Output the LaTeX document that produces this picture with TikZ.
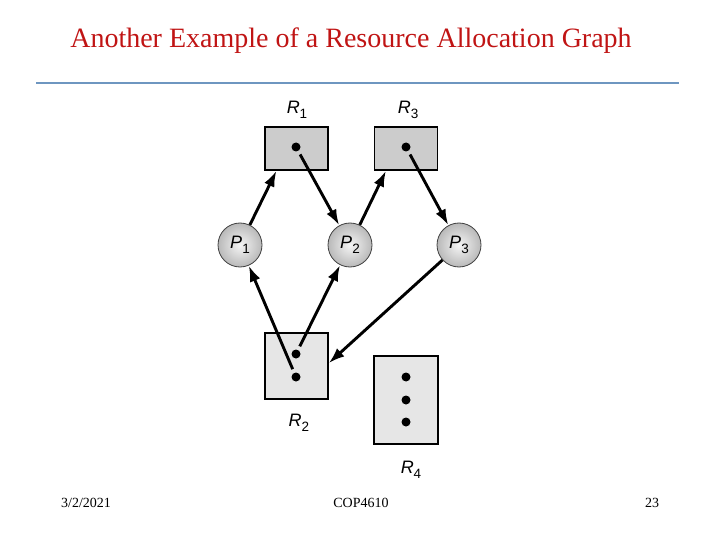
\documentclass[tikz,border=0pt]{standalone}
\usepackage{fontspec}
\setmainfont{Liberation Serif}
\newfontfamily\lblfont{Liberation Sans}
\usetikzlibrary{arrows.meta}
\definecolor{titlered}{RGB}{192,20,20}
\definecolor{rulebl}{RGB}{110,150,192}
\definecolor{resdark}{RGB}{204,204,204}
\definecolor{reslight}{RGB}{230,230,230}
\tikzset{
    res/.style={draw=black, line width=1.5pt, minimum width=63pt, inner sep=0pt},
    inst/.style={circle, fill=black, inner sep=0pt, minimum size=9pt, outer sep=4pt},
    proc/.style={circle, draw=gray!50!black, line width=0.8pt, shading=radial,
        inner color=gray!8, outer color=gray!55,
        minimum size=44pt, inner sep=0pt, font=\lblfont\fontsize{18}{18}\selectfont},
    edgearr/.style={-{Latex[length=16pt,width=11pt]}, line width=2.9pt},
    lbl/.style={inner sep=0pt, font=\lblfont\fontsize{18}{18}\selectfont},
    foot/.style={inner sep=0pt, font=\fontsize{14}{14}\selectfont}
}
\newcommand{\rname}[2]{\textit{#1}\raisebox{-0.5ex}{\fontsize{13.5}{13.5}\selectfont #2}}

\begin{document}
\begin{tikzpicture}[x=1pt, y=-1pt]
    \useasboundingbox (0,0) rectangle (720,540);
    % heading
    \node[inner sep=0pt, text=titlered, font=\fontsize{28}{28}\selectfont] (title) at (351,41) {Another Example of a Resource Allocation Graph};
    \coordinate (ruleL) at (36,83);
    \coordinate (ruleR) at (679,83);
    \draw[rulebl, line width=2pt] (ruleL) -- (ruleR);
    % resources
    \node[res, fill=resdark, minimum height=43pt] (r1) at (296.5,148.5) {};
    \node[res, fill=resdark, minimum height=43pt] (r3) at (406,148.5) {};
    \node[res, fill=reslight, minimum height=66pt] (r2) at (296.5,366) {};
    \node[res, fill=reslight, minimum width=64pt, minimum height=88pt] (r4) at (406,400) {};
    \node[inst] (r1d) at (296,147) {};
    \node[inst] (r3d) at (406,147) {};
    \node[inst] (r2a) at (296,354) {};
    \node[inst] (r2b) at (296,377) {};
    \node[inst] (r4a) at (406,377) {};
    \node[inst] (r4b) at (406,400) {};
    \node[inst] (r4c) at (406,422) {};
    \node[lbl] (r1l) at (297,110) {\rname{R}{1}};
    \node[lbl] (r3l) at (408,110) {\rname{R}{3}};
    \node[lbl] (r2l) at (299,423) {\rname{R}{2}};
    \node[lbl] (r4l) at (411,470) {\rname{R}{4}};
    % processes
    \node[proc] (p1) at (240,245) {\rname{P}{1}};
    \node[proc] (p2) at (350,245) {\rname{P}{2}};
    \node[proc] (p3) at (459,245) {\rname{P}{3}};
    % edges
    \draw[edgearr] (p1) -- (r1.228);
    \draw[edgearr] (r1d) -- (p2);
    \draw[edgearr] (p2) -- (r3.228);
    \draw[edgearr] (r3d) -- (p3);
    \draw[edgearr] (r2b) -- (p1);
    \draw[edgearr] (r2a) -- (p2);
    \draw[edgearr] (p3) -- (r2.5);
    % footer
    \node[foot] (date) at (86,503) {3/2/2021};
    \node[foot] (course) at (361,503) {COP4610};
    \node[foot] (page) at (652,503) {23};
\end{tikzpicture}
\end{document}
